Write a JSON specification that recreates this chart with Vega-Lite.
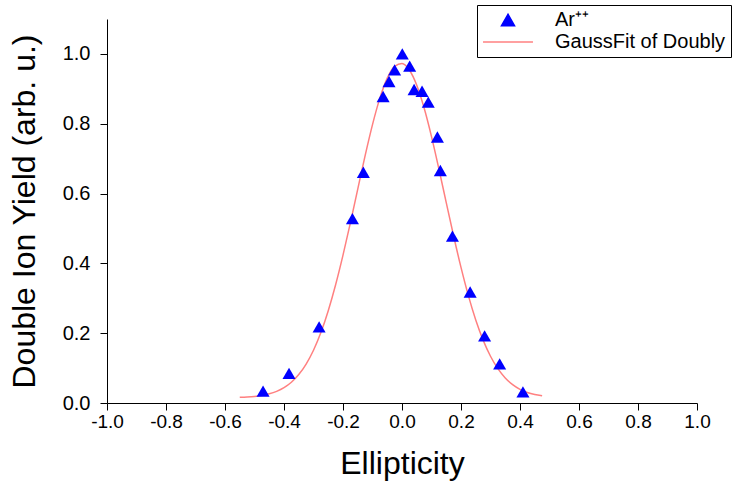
{
  "$schema": "https://vega.github.io/schema/vega-lite/v6.json",
  "width": 590,
  "height": 384,
  "autosize": {"type": "none"},
  "padding": {"left": 107, "top": 19, "right": 41, "bottom": 84},
  "background": "white",
  "config": {
    "view": {"stroke": null},
    "font": "Liberation Sans",
    "axis": {
      "grid": false,
      "domainColor": "black",
      "domainWidth": 1,
      "tickColor": "black",
      "tickWidth": 1,
      "labelColor": "black",
      "titleColor": "black",
      "labelFont": "Liberation Sans",
      "titleFont": "Liberation Sans",
      "labelFontSize": 20,
      "titleFontSize": 32,
      "titleFontWeight": "normal"
    }
  },
  "datasets": {
    "points": [
      {"x": -0.471, "y": 0.034, "series": "Ar⁺⁺"},
      {"x": -0.383, "y": 0.085, "series": "Ar⁺⁺"},
      {"x": -0.281, "y": 0.218, "series": "Ar⁺⁺"},
      {"x": -0.168, "y": 0.528, "series": "Ar⁺⁺"},
      {"x": -0.131, "y": 0.661, "series": "Ar⁺⁺"},
      {"x": -0.064, "y": 0.878, "series": "Ar⁺⁺"},
      {"x": -0.044, "y": 0.921, "series": "Ar⁺⁺"},
      {"x": -0.025, "y": 0.954, "series": "Ar⁺⁺"},
      {"x": 0.001, "y": 1.0, "series": "Ar⁺⁺"},
      {"x": 0.026, "y": 0.965, "series": "Ar⁺⁺"},
      {"x": 0.041, "y": 0.898, "series": "Ar⁺⁺"},
      {"x": 0.068, "y": 0.893, "series": "Ar⁺⁺"},
      {"x": 0.089, "y": 0.862, "series": "Ar⁺⁺"},
      {"x": 0.120, "y": 0.762, "series": "Ar⁺⁺"},
      {"x": 0.130, "y": 0.666, "series": "Ar⁺⁺"},
      {"x": 0.171, "y": 0.478, "series": "Ar⁺⁺"},
      {"x": 0.231, "y": 0.318, "series": "Ar⁺⁺"},
      {"x": 0.280, "y": 0.192, "series": "Ar⁺⁺"},
      {"x": 0.331, "y": 0.112, "series": "Ar⁺⁺"},
      {"x": 0.410, "y": 0.032, "series": "Ar⁺⁺"}
    ],
    "fit": [
      {"x": -0.55, "y": 0.0162, "series": "GaussFit of Doubly"},
      {"x": -0.525, "y": 0.0172, "series": "GaussFit of Doubly"},
      {"x": -0.5, "y": 0.0189, "series": "GaussFit of Doubly"},
      {"x": -0.475, "y": 0.0218, "series": "GaussFit of Doubly"},
      {"x": -0.45, "y": 0.0263, "series": "GaussFit of Doubly"},
      {"x": -0.425, "y": 0.0334, "series": "GaussFit of Doubly"},
      {"x": -0.4, "y": 0.0440, "series": "GaussFit of Doubly"},
      {"x": -0.375, "y": 0.0595, "series": "GaussFit of Doubly"},
      {"x": -0.35, "y": 0.0814, "series": "GaussFit of Doubly"},
      {"x": -0.325, "y": 0.1115, "series": "GaussFit of Doubly"},
      {"x": -0.3, "y": 0.1511, "series": "GaussFit of Doubly"},
      {"x": -0.275, "y": 0.2018, "series": "GaussFit of Doubly"},
      {"x": -0.25, "y": 0.2644, "series": "GaussFit of Doubly"},
      {"x": -0.225, "y": 0.3386, "series": "GaussFit of Doubly"},
      {"x": -0.2, "y": 0.4234, "series": "GaussFit of Doubly"},
      {"x": -0.175, "y": 0.5161, "series": "GaussFit of Doubly"},
      {"x": -0.15, "y": 0.6129, "series": "GaussFit of Doubly"},
      {"x": -0.125, "y": 0.7087, "series": "GaussFit of Doubly"},
      {"x": -0.1, "y": 0.7975, "series": "GaussFit of Doubly"},
      {"x": -0.075, "y": 0.8733, "series": "GaussFit of Doubly"},
      {"x": -0.05, "y": 0.9305, "series": "GaussFit of Doubly"},
      {"x": -0.025, "y": 0.9645, "series": "GaussFit of Doubly"},
      {"x": 0.0, "y": 0.9724, "series": "GaussFit of Doubly"},
      {"x": 0.025, "y": 0.9538, "series": "GaussFit of Doubly"},
      {"x": 0.05, "y": 0.9102, "series": "GaussFit of Doubly"},
      {"x": 0.075, "y": 0.8449, "series": "GaussFit of Doubly"},
      {"x": 0.1, "y": 0.7632, "series": "GaussFit of Doubly"},
      {"x": 0.125, "y": 0.6709, "series": "GaussFit of Doubly"},
      {"x": 0.15, "y": 0.5740, "series": "GaussFit of Doubly"},
      {"x": 0.175, "y": 0.4783, "series": "GaussFit of Doubly"},
      {"x": 0.2, "y": 0.3884, "series": "GaussFit of Doubly"},
      {"x": 0.225, "y": 0.3076, "series": "GaussFit of Doubly"},
      {"x": 0.25, "y": 0.2379, "series": "GaussFit of Doubly"},
      {"x": 0.275, "y": 0.1802, "series": "GaussFit of Doubly"},
      {"x": 0.3, "y": 0.1340, "series": "GaussFit of Doubly"},
      {"x": 0.325, "y": 0.0983, "series": "GaussFit of Doubly"},
      {"x": 0.35, "y": 0.0718, "series": "GaussFit of Doubly"},
      {"x": 0.375, "y": 0.0527, "series": "GaussFit of Doubly"},
      {"x": 0.4, "y": 0.0392, "series": "GaussFit of Doubly"},
      {"x": 0.425, "y": 0.0301, "series": "GaussFit of Doubly"},
      {"x": 0.45, "y": 0.0242, "series": "GaussFit of Doubly"},
      {"x": 0.475, "y": 0.0205, "series": "GaussFit of Doubly"}
    ]
  },
  "layer": [
    {
      "data": {"name": "fit"},
      "mark": {"type": "line", "interpolate": "monotone", "strokeWidth": 1.5},
      "encoding": {
        "x": {
          "field": "x", "type": "quantitative",
          "scale": {"domain": [-1, 1], "nice": false, "zero": false},
          "axis": {
            "title": "Ellipticity",
            "values": [-1, -0.9, -0.8, -0.7, -0.6, -0.5, -0.4, -0.3, -0.2, -0.1, 0, 0.1, 0.2, 0.3, 0.4, 0.5, 0.6, 0.7, 0.8, 0.9, 1],
            "labelExpr": "round(datum.value*10)%2===0 ? replace(format(datum.value,'.1f'),'−','-') : ''",
            "tickSize": {"condition": {"test": "round(datum.value*10)%2===0", "value": 7}, "value": 4},
            "labelFontSize": 19,
            "labelPadding": 2,
            "labelFlush": false,
            "labelOverlap": false,
            "titlePadding": 17
          }
        },
        "y": {
          "field": "y", "type": "quantitative",
          "scale": {"domain": [0, 1.1], "nice": false},
          "axis": {
            "title": "Double Ion Yield (arb. u.)",
            "values": [0, 0.1, 0.2, 0.3, 0.4, 0.5, 0.6, 0.7, 0.8, 0.9, 1.0, 1.1],
            "labelExpr": "round(datum.value*10)%2===0 ? format(datum.value,'.1f') : ''",
            "tickSize": {"condition": {"test": "round(datum.value*10)%2===0", "value": 7}, "value": 4},
            "labelPadding": 10,
            "labelFlush": false,
            "labelOverlap": false,
            "titlePadding": 21
          }
        },
        "color": {
          "field": "series", "type": "nominal",
          "scale": {"domain": ["Ar⁺⁺", "GaussFit of Doubly"], "range": ["#0000ff", "#ff8080"]},
          "legend": {
            "title": null,
            "orient": "none",
            "legendX": 370,
            "legendY": -14,
            "strokeColor": "black",
            "fillColor": "white",
            "padding": 5,
            "labelFontSize": 20,
            "labelFont": "Liberation Sans",
            "labelColor": "black",
            "labelLimit": 400,
            "rowPadding": 2,
            "labelOffset": 37,
            "symbolOffset": 16,
            "symbolSize": 170,
            "symbolStrokeWidth": 1.5,
            "encode": {
              "symbols": {
                "update": {
                  "stroke": {"scale": "color", "field": "value"}
                }
              }
            }
          }
        }
      }
    },
    {
      "data": {"name": "points"},
      "mark": {"type": "point", "filled": true, "size": 170, "opacity": 1},
      "encoding": {
        "x": {"field": "x", "type": "quantitative"},
        "y": {"field": "y", "type": "quantitative"},
        "color": {"field": "series", "type": "nominal"},
        "shape": {
          "field": "series", "type": "nominal",
          "scale": {"domain": ["Ar⁺⁺", "GaussFit of Doubly"], "range": ["triangle-up", "M-3.83,0L3.83,0"]}
        }
      }
    }
  ]
}
